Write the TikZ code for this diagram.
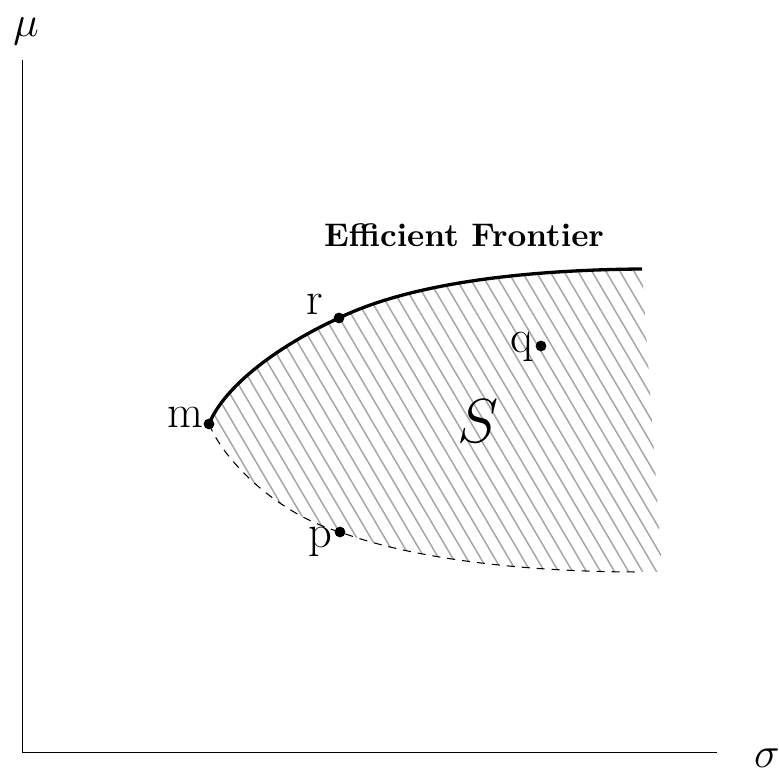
\documentclass[tikz,border=0pt]{standalone}
\begin{document}
\begin{tikzpicture}[x=0.3333pt,y=-0.3333pt,
  axis/.style={line width=0.3pt},
  frontier/.style={line width=1.1pt},
  lowerb/.style={line width=0.35pt, dash pattern=on 2.7pt off 2.3pt},
  hatchline/.style={line width=0.5pt, black!35},
  dot/.style={circle, fill=black, inner sep=0pt, minimum size=3.6pt},
  lbl/.style={inner sep=0pt, font=\fontsize{15.5}{18}\selectfont},
  axlbl/.style={inner sep=0pt, font=\fontsize{13.5}{16}\selectfont},
]
\useasboundingbox (0,0) rectangle (779,772);
% axes
\coordinate (O) at (22,752);
\coordinate (ytop) at (22,60);
\coordinate (xend) at (717,752);
\draw[axis] (ytop) -- (O) -- (xend);
\node[axlbl, anchor=base] (mu) at (26,37) {$\mu$};
\node[axlbl, anchor=base] (sigma) at (767,768) {$\sigma$};
% key points
\coordinate (mc) at (209,424);
\coordinate (rc) at (339,318);
\coordinate (pc) at (340,532);
\coordinate (ue) at (642,269);
\coordinate (le) at (640,572);
% hatched region
\begin{scope}
\clip (mc) .. controls (225,385) and (280,345) .. (rc)
  .. controls (409,284) and (520,270) .. (ue)
  -- (662,572) -- (le)
  .. controls (520,572) and (410,558) .. (pc)
  .. controls (280,515) and (225,463) .. (mc) -- cycle;
\foreach \k in {-42,...,12}
  \draw[hatchline] ({522+14*\k},200) -- ({769+14*\k},620);
\end{scope}
% boundaries
\draw[frontier] (mc) .. controls (225,385) and (280,345) .. (rc)
  .. controls (409,284) and (520,270) .. (ue);
\draw[lowerb] (mc) .. controls (225,463) and (280,515) .. (pc)
  .. controls (410,558) and (520,572) .. (le);
% dots
\node[dot] (m) at (mc) {};
\node[dot] (r) at (rc) {};
\node[dot] (p) at (pc) {};
\node[dot] (q) at (541,346) {};
% labels
\node[lbl, anchor=base east] (mlbl) at (204,428) {m};
\node[lbl, anchor=base] (rlbl) at (315,315) {r};
\node[lbl, anchor=base] (plbl) at (320,548) {p};
\node[lbl, anchor=base] (qlbl) at (522,353) {q};
\node[inner sep=0pt, anchor=base, font=\fontsize{20.7}{24}\selectfont] (S) at (478,443) {$S$};
\node[inner sep=0pt, anchor=base, font=\fontsize{10.9}{13}\selectfont\bfseries] (ef) at (464,247) {Efficient Frontier};
\end{tikzpicture}
\end{document}
